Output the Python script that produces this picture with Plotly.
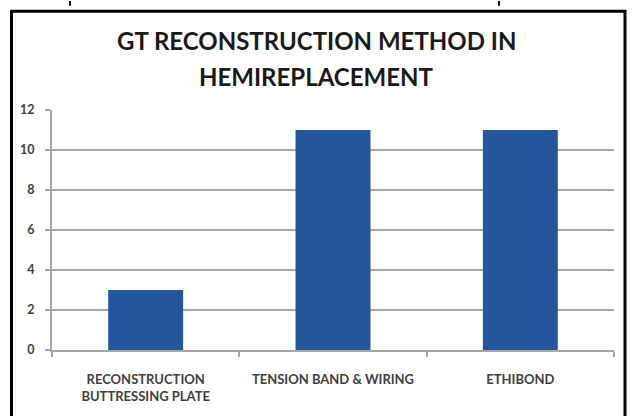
import plotly.graph_objects as go

categories = ["RECONSTRUCTION<br>BUTTRESSING PLATE", "TENSION BAND & WIRING", "ETHIBOND"]
values = [3, 11, 11]
y_ticks = [0, 2, 4, 6, 8, 10, 12]
title_lines = ["GT RECONSTRUCTION METHOD IN", "HEMIREPLACEMENT"]

W, H = 632, 416
L, R, T, B = 52, 18, 110, 64
pw, ph = W - L - R, H - T - B

def px(x):
    return (x - L) / pw

def py(y):
    return (H - B - y) / ph

fig = go.Figure(go.Bar(x=categories, y=values, marker=dict(color="#23569a", line=dict(width=0)),
                       width=0.4))

grey = "#a6a6a6"
fig.update_layout(
    width=W, height=H,
    margin=dict(l=L, r=R, t=T, b=B),
    paper_bgcolor="white", plot_bgcolor="white",
    showlegend=False,
    font=dict(family="Lato", color="#404040"),
)
fig.update_yaxes(range=[0, 12], tickvals=y_ticks, showgrid=True, gridcolor=grey, gridwidth=2,
                 showline=True, linecolor=grey, linewidth=2, ticks="outside", ticklen=5,
                 tickcolor=grey, tickwidth=2, ticklabelstandoff=8,
                 tickfont=dict(size=12.5, family="Lato", weight="bold", color="#404040"), zeroline=False)
fig.update_xaxes(showline=True, linecolor=grey, linewidth=2, ticks="outside", tickson="boundaries",
                 ticklen=5, tickcolor=grey, tickwidth=2, ticklabelstandoff=16,
                 tickfont=dict(size=13, family="Lato", weight="bold", color="#404040"))

for i, (txt, yy) in enumerate(zip(title_lines, [40, 76])):
    fig.add_annotation(text=txt, xref="paper", yref="paper", x=px(316), y=py(yy),
                       xanchor="center", yanchor="middle", showarrow=False,
                       font=dict(family="Lato", size=24, weight="bold", color="#1a1a1a"))

# outer border
fig.add_shape(type="rect", xref="paper", yref="paper", x0=px(11.5), x1=px(625), y0=py(430), y1=py(10.5),
              line=dict(color="black", width=3), fillcolor="rgba(0,0,0,0)", layer="above")
# small marks above the frame
for xx in [70, 499]:
    fig.add_shape(type="line", xref="paper", yref="paper", x0=px(xx), x1=px(xx), y0=py(0), y1=py(5),
                  line=dict(color="black", width=2))

fig.write_html("out.html", post_script="document.body.style.margin='0';",
               config={"displayModeBar": False})
